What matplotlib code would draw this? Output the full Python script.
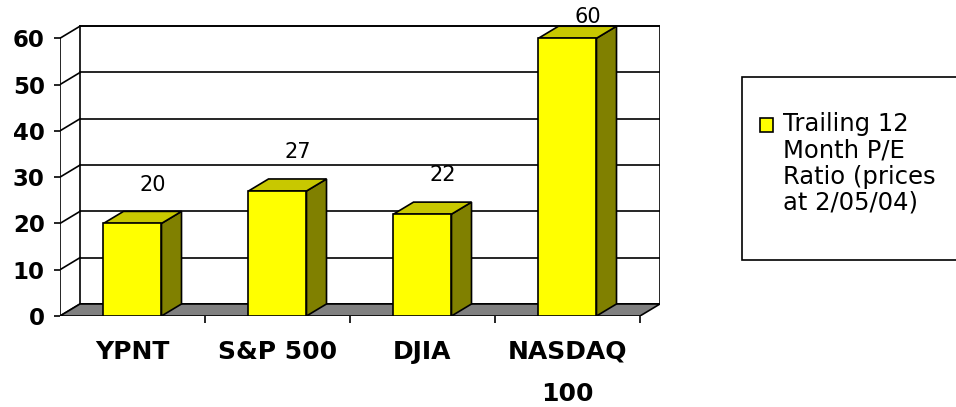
import matplotlib
matplotlib.use('Agg')
import matplotlib.pyplot as plt
from matplotlib.patches import Polygon, Rectangle

# chart data
categories = ['YPNT', 'S&P 500', 'DJIA', 'NASDAQ\n100']
pe_ratio = [20, 27, 22, 60]
y_ticks = [0, 10, 20, 30, 40, 50, 60]
legend_label = 'Trailing 12\nMonth P/E\nRatio (prices\nat 2/05/04)'

# fake 3D: offset of the back wall (data units)
DX = 0.138
DY = 2.6
BAR_W = 0.4

FRONT = '#FFFF00'
SIDE = '#808000'
TOP = '#C8C800'
FLOOR = '#808080'
LW = 1.2

W, H = 956, 407
fig = plt.figure(figsize=(W / 100, H / 100), dpi=100)
ax = fig.add_axes([60 / W, (H - 316) / H, 600 / W, 306 / H])
ax.patch.set_alpha(0)

n = len(categories)
x0, x1 = -0.5, n - 0.5
ymax = y_ticks[-1]
ax.set_xlim(x0, x1 + DX)
ax.set_ylim(0, 66.1)

# back wall + gridlines + side wall diagonals
ax.add_patch(Rectangle((x0 + DX, DY), x1 - x0, ymax, facecolor='white',
                       edgecolor='black', lw=LW, zorder=1))
for t in y_ticks:
    ax.plot([x0 + DX, x1 + DX], [t + DY, t + DY], color='black', lw=LW, zorder=1)
    ax.plot([x0, x0 + DX], [t, t + DY], color='black', lw=LW, zorder=1)

# floor
ax.add_patch(Polygon([(x0, 0), (x1, 0), (x1 + DX, DY), (x0 + DX, DY)],
                     facecolor=FLOOR, edgecolor='black', lw=LW, zorder=2))
ax.plot([x0, x0], [0, ymax], color='black', lw=LW, zorder=2)

# bars
for i, v in enumerate(pe_ratio):
    l, r = i - BAR_W / 2, i + BAR_W / 2
    ax.add_patch(Polygon([(r, 0), (r + DX, DY), (r + DX, v + DY), (r, v)],
                         facecolor=SIDE, edgecolor='black', lw=LW, zorder=3))
    ax.add_patch(Polygon([(l, v), (r, v), (r + DX, v + DY), (l + DX, v + DY)],
                         facecolor=TOP, edgecolor='black', lw=LW, zorder=3))
    ax.add_patch(Rectangle((l, 0), BAR_W, v, facecolor=FRONT,
                           edgecolor='black', lw=LW, zorder=4))
    ax.text(i + DX, min(v + DY + 5.8, 64.6), str(v), ha='center', va='center',
            fontsize=15, zorder=5)

for s in ax.spines.values():
    s.set_visible(False)

ax.set_yticks(y_ticks)
ax.set_yticklabels([str(t) for t in y_ticks], fontsize=16.5, fontweight='bold')
ax.tick_params(axis='y', length=4, width=LW, pad=7)

ax.set_xticks(range(n))
ax.set_xticklabels(categories, fontsize=18, fontweight='bold', linespacing=1.95)
ax.set_xticks([i + 0.5 for i in range(n)], minor=True)
ax.tick_params(axis='x', which='major', length=0, pad=17)
ax.tick_params(axis='x', which='minor', length=5, width=LW)

# legend box (runs off the right edge like the original)
fig.add_artist(Rectangle((742 / W, (H - 260) / H), 230 / W, 183 / H,
                         transform=fig.transFigure, facecolor='white',
                         edgecolor='black', lw=LW))
fig.add_artist(Rectangle((760 / W, (H - 132) / H), 13 / W, 14 / H,
                         transform=fig.transFigure, facecolor=FRONT,
                         edgecolor='black', lw=LW))
fig.text(783 / W, (H - 112) / H, legend_label, ha='left', va='top',
         fontsize=17.5, linespacing=1.12)

fig.savefig('out.png', dpi=100, facecolor='white')
